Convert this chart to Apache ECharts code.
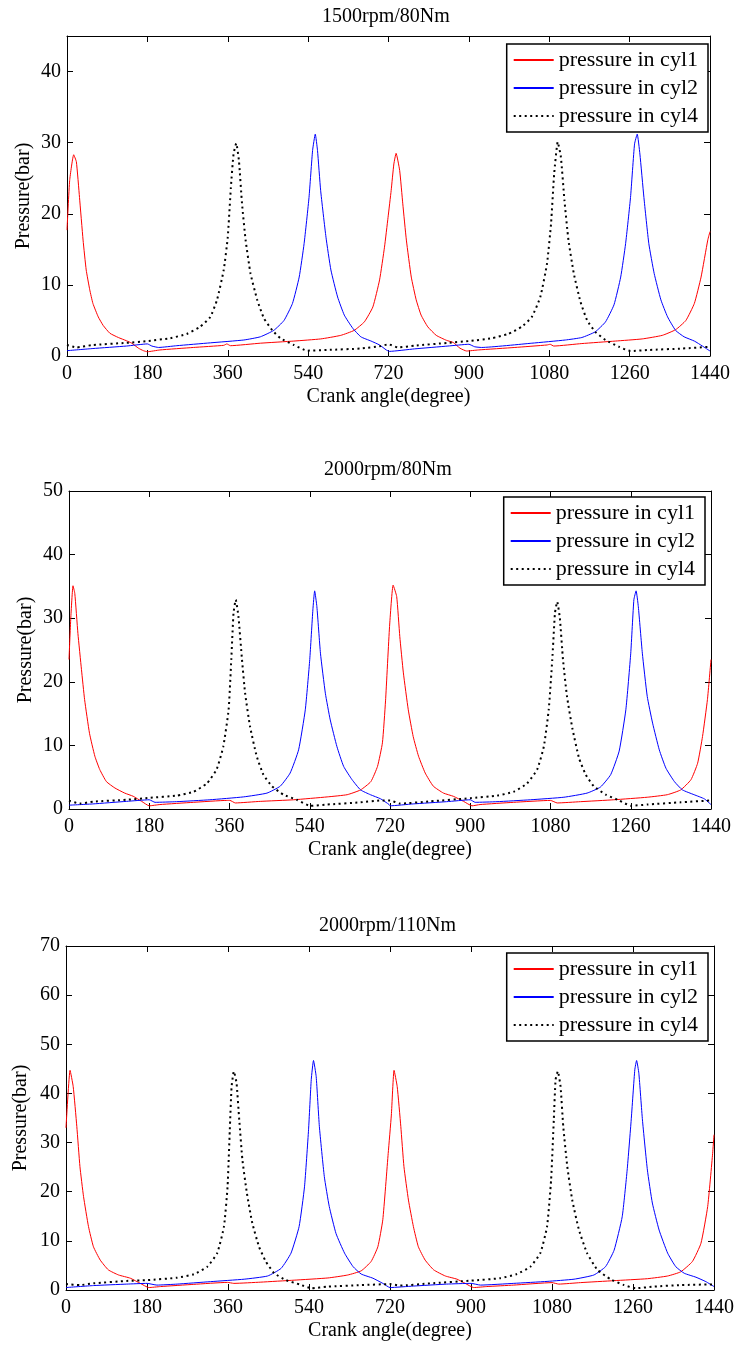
<!DOCTYPE html>
<html>
<head>
<meta charset="utf-8">
<script src="https://cdn.jsdelivr.net/npm/echarts@6/dist/echarts.min.js"></script>
<style>
html,body{margin:0;padding:0;background:#fff;}
#chart{width:737px;height:1349px;}
</style>
</head>
<body>
<div id="chart"></div>
<script>
// ---- data (crank angle in degrees, pressure in bar) ----
const xTicks = [0, 180, 360, 540, 720, 900, 1080, 1260, 1440];
const titles = ['1500rpm/80Nm', '2000rpm/80Nm', '2000rpm/110Nm'];
const seriesNames = ['pressure in cyl1', 'pressure in cyl2', 'pressure in cyl4'];
const yMax = [45, 50, 70];

const p1_cyl1 = [[0,17.7],[6,24.7],[15,28.3],[21,27.3],[28,22.3],[36,16.3],[43,12.1],[51,9.3],[58,7.4],[70,5.5],[81,4.3],[96,3.2],[115,2.6],[133,2.15],[145,1.8],[160,1.1],[171,0.75],[180,0.6],[208,0.85],[283,1.2],[351,1.5],[358,1.7],[366,1.45],[433,1.8],[508,2.1],[568,2.4],[613,2.9],[643,3.6],[666,4.8],[685,6.9],[700,10.7],[711,15.3],[719,19.5],[726,23.3],[732,27],[737,28.5],[745,26.1],[752,21.4],[760,16.3],[771,11.1],[782,7.9],[793,5.75],[808,4.1],[827,2.9],[850,2.2],[865,1.9],[880,1.1],[895,0.7],[921,0.85],[1003,1.2],[1075,1.55],[1082,1.65],[1090,1.4],[1153,1.75],[1228,2.1],[1288,2.4],[1333,2.9],[1363,3.7],[1386,5.0],[1405,7.4],[1420,11.1],[1435,16.3],[1440,17.5]];
const p1_cyl2 = [[0,0.75],[58,1.05],[133,1.4],[180,1.7],[190,1.4],[205,1.2],[246,1.45],[321,1.85],[396,2.25],[433,2.7],[463,3.6],[486,5.0],[505,7.4],[520,11.1],[531,15.8],[542,22.3],[550,28.9],[556,31.2],[561,28.9],[568,23.3],[580,16.7],[591,12.1],[606,8.3],[621,5.75],[640,3.9],[658,2.7],[681,2.1],[700,1.55],[715,0.85],[722,0.65],[778,1.0],[853,1.4],[900,1.65],[913,1.3],[928,1.2],[1041,1.8],[1116,2.25],[1153,2.6],[1183,3.4],[1206,4.8],[1225,7.2],[1240,11.1],[1251,15.8],[1262,22.3],[1271,29.8],[1277,31.2],[1283,28.4],[1292,22.3],[1303,15.8],[1315,11.6],[1330,7.9],[1345,5.5],[1363,3.6],[1382,2.7],[1405,2.1],[1423,1.4],[1440,0.7]];
const p1_cyl4 = [[0,1.55],[21,1.2],[58,1.55],[133,1.85],[180,2.1],[231,2.5],[268,3.1],[298,4.1],[321,5.5],[336,7.9],[351,12.1],[360,16.7],[367,23.7],[373,28.4],[379,29.9],[385,27.5],[392,21.4],[400,16.3],[411,11.6],[426,7.9],[441,5.3],[460,3.6],[478,2.5],[508,1.55],[538,0.75],[583,0.85],[658,1.05],[703,1.4],[720,1.65],[741,1.2],[778,1.45],[853,1.85],[900,2.1],[951,2.5],[988,3.1],[1018,4.1],[1041,5.5],[1060,8.3],[1075,13],[1084,18.6],[1091,25.6],[1099,30.1],[1106,28],[1114,21.9],[1123,16.3],[1135,11.6],[1150,7.6],[1165,5.0],[1183,3.4],[1206,2.25],[1236,1.3],[1262,0.7],[1303,0.85],[1378,1.05],[1440,1.3]];

const p2_cyl1 = [[0,23.5],[4,30],[9,35.1],[13,33.9],[20,27.6],[28,21.9],[35,17.2],[46,11.9],[58,8.3],[69,6.2],[84,4.3],[103,3.3],[125,2.5],[144,2.0],[163,1.2],[180,0.5],[204,0.7],[279,1.05],[354,1.35],[361,1.35],[373,0.95],[429,1.2],[504,1.45],[579,1.9],[624,2.25],[654,3.0],[677,4.3],[692,6.7],[703,10.4],[710,17],[719,28.7],[727,35.2],[735,33.4],[742,27.1],[750,21.4],[761,15.6],[772,11.4],[784,8.3],[799,5.65],[817,3.6],[840,2.5],[862,2.0],[885,1.2],[904,0.5],[922,0.7],[997,1.05],[1080,1.35],[1095,0.95],[1147,1.15],[1222,1.45],[1297,1.85],[1342,2.25],[1372,3.0],[1395,4.6],[1410,7.2],[1421,11.4],[1432,17.2],[1440,23.5]];
const p2_cyl2 = [[0,0.6],[54,0.8],[129,1.2],[180,1.45],[193,1.05],[241,1.15],[316,1.45],[391,1.9],[444,2.5],[474,3.6],[496,5.65],[515,9.3],[530,15.6],[540,23.5],[547,31.3],[551,34.3],[556,31.8],[564,24.5],[575,18.2],[586,14.0],[601,9.8],[616,6.7],[635,4.6],[654,3.0],[676,2.25],[699,1.6],[718,0.7],[720,0.5],[772,0.8],[847,1.15],[900,1.45],[911,1.05],[960,1.15],[1035,1.45],[1110,1.85],[1162,2.5],[1192,3.45],[1215,5.4],[1234,9.1],[1249,15.6],[1260,24.5],[1267,32.9],[1272,34.3],[1277,31.8],[1286,24.5],[1297,17.7],[1309,13.5],[1324,9.3],[1339,6.4],[1358,4.3],[1376,3.0],[1402,2.25],[1425,1.6],[1440,0.7]];
const p2_cyl4 = [[0,1.3],[24,0.85],[54,1.15],[129,1.45],[180,1.75],[241,2.1],[279,2.7],[309,4.0],[331,6.2],[346,9.8],[358,15.6],[364,23.5],[369,30.8],[374,32.9],[380,30.3],[388,23.5],[395,18.2],[406,13.0],[421,8.3],[436,5.4],[455,3.6],[481,2.25],[511,1.45],[541,0.5],[579,0.7],[654,1.05],[699,1.35],[720,1.35],[742,0.85],[810,1.2],[900,1.7],[960,2.1],[997,2.7],[1027,4.0],[1050,6.2],[1065,9.8],[1076,15.6],[1084,23.5],[1090,30.8],[1095,32.6],[1101,30.0],[1108,23.5],[1117,17.7],[1129,12.7],[1144,8.0],[1159,5.4],[1177,3.6],[1204,2.25],[1234,1.35],[1260,0.5],[1297,0.7],[1372,1.05],[1440,1.35]];

const p3_cyl1 = [[0,33],[9,44.7],[16,41.4],[24,33.3],[31,25.1],[39,19.0],[50,12.9],[61,8.8],[76,6.1],[94,4.1],[117,3.05],[143,2.4],[165,1.35],[184,0.5],[210,0.7],[284,1.15],[359,1.55],[373,1.35],[433,1.6],[507,2.0],[582,2.45],[626,3.05],[656,3.9],[678,5.8],[693,8.8],[704,14.3],[716,27.8],[723,35.6],[729,44.7],[736,41.4],[744,33.3],[751,25.1],[761,18.3],[772,12.9],[783,8.8],[798,6.1],[817,4.1],[843,2.85],[869,2.2],[887,1.35],[906,0.5],[935,0.7],[995,1.0],[1080,1.5],[1095,1.2],[1143,1.5],[1218,1.9],[1292,2.3],[1337,2.85],[1366,3.7],[1392,5.8],[1411,9.5],[1426,17],[1437,27.8],[1440,31.6]];
const p3_cyl2 = [[0,0.5],[61,0.9],[135,1.2],[180,1.35],[202,1.0],[247,1.2],[321,1.7],[396,2.2],[448,2.85],[478,4.4],[500,7.5],[518,12.9],[530,21],[539,32.6],[545,42.8],[550,46.7],[556,43.4],[563,33.3],[574,23.1],[585,17],[600,11.5],[619,7.5],[638,4.75],[656,3.25],[682,2.4],[704,1.35],[720,0.5],[772,0.8],[846,1.2],[900,1.35],[921,1.0],[995,1.35],[1069,1.75],[1129,2.2],[1173,3.05],[1199,4.75],[1218,8.1],[1236,14.9],[1247,24.4],[1256,34.6],[1264,44.8],[1268,46.7],[1273,44.1],[1281,34.6],[1292,24.4],[1303,17.7],[1318,12.2],[1337,7.5],[1355,4.75],[1374,3.4],[1400,2.6],[1422,1.7],[1440,0.7]];
const p3_cyl4 = [[0,1.2],[31,1.0],[61,1.35],[135,1.85],[180,2.0],[247,2.5],[284,3.2],[314,4.75],[336,7.5],[351,12.9],[359,21],[364,32.6],[368,41.4],[373,44.5],[379,42.1],[385,34.6],[392,26.5],[402,19.7],[414,13.6],[429,8.8],[444,5.8],[463,3.4],[489,2.0],[519,1.15],[545,0.35],[582,0.7],[656,1.0],[720,1.2],[742,0.9],[809,1.35],[900,1.9],[965,2.4],[1002,3.25],[1032,4.75],[1054,7.5],[1069,12.9],[1078,22.4],[1084,34.6],[1088,42.8],[1093,44.5],[1099,41.4],[1105,33.3],[1114,25.1],[1125,18.3],[1140,12.2],[1158,7.5],[1181,4.1],[1210,2.2],[1240,1.0],[1266,0.35],[1307,0.7],[1366,1.0],[1440,1.15]];

const plotData = [[p1_cyl1, p1_cyl2, p1_cyl4],[p2_cyl1, p2_cyl2, p2_cyl4],[p3_cyl1, p3_cyl2, p3_cyl4]];

// ---- layout / style ----
const FONT = "'Liberation Serif', 'Times New Roman', serif";
const grids = [
  {left: 67, right: 27, top: 36, height: 320},
  {left: 69, right: 26, top: 491, height: 318},
  {left: 66, right: 23, top: 946, height: 344}
];
const titlePos = [{left: 322, top: 7}, {left: 324, top: 460}, {left: 319, top: 916}];
const legendPos = [{right: 29, top: 44}, {right: 32, top: 497}, {right: 29, top: 953}];
const yNameGap = [33, 33, 35];
const lineStyles = [
  {color: '#ff0000', width: 1, type: 'solid'},
  {color: '#0000ff', width: 1, type: 'solid'},
  {color: '#000000', width: 2, type: [2, 3.5]}
];

const option = {
  animation: false,
  backgroundColor: '#ffffff',
  title: [], grid: [], xAxis: [], yAxis: [], series: [], legend: []
};

const axisLine = {show: true, onZero: false, lineStyle: {color: '#000', width: 1}};
const tick = {show: true, inside: true, length: 6, lineStyle: {color: '#000', width: 1}};

for (let i = 0; i < 3; i++) {
  option.grid.push(Object.assign({containLabel: false}, grids[i]));
  option.title.push({
    text: titles[i], left: titlePos[i].left, top: titlePos[i].top, padding: 0,
    textStyle: {fontFamily: FONT, fontSize: 20, fontWeight: 'normal', color: '#000'}
  });
  // bottom x axis
  option.xAxis.push({
    type: 'value', gridIndex: i, position: 'bottom', min: 0, max: 1440, interval: 180,
    name: 'Crank angle(degree)', nameLocation: 'middle', nameGap: 31, nameMoveOverlap: false,
    nameTextStyle: {fontFamily: FONT, fontSize: 20, color: '#000'},
    axisLine: axisLine, axisTick: tick, splitLine: {show: false},
    axisLabel: {fontFamily: FONT, fontSize: 20, color: '#000', margin: 8, showMinLabel: true, showMaxLabel: true,
      formatter: v => (xTicks.indexOf(v) >= 0 ? String(v) : '')}
  });
  // top x axis (box)
  option.xAxis.push({
    type: 'value', gridIndex: i, position: 'top', min: 0, max: 1440, interval: 180,
    axisLine: axisLine, axisTick: tick, axisLabel: {show: false}, splitLine: {show: false}
  });
  // left y axis
  option.yAxis.push({
    type: 'value', gridIndex: i, position: 'left', min: 0, max: yMax[i], interval: 10,
    name: 'Pressure(bar)', nameLocation: 'middle', nameGap: yNameGap[i], nameMoveOverlap: false,
    nameTextStyle: {fontFamily: FONT, fontSize: 20, color: '#000'},
    axisLine: axisLine, axisTick: tick, splitLine: {show: false},
    axisLabel: {fontFamily: FONT, fontSize: 20, color: '#000', margin: 6,
      formatter: v => (v % 10 === 0 ? String(v) : '')}
  });
  // right y axis (box)
  option.yAxis.push({
    type: 'value', gridIndex: i, position: 'right', min: 0, max: yMax[i], interval: 10,
    axisLine: axisLine, axisTick: tick, axisLabel: {show: false}, splitLine: {show: false}
  });
  for (let s = 0; s < 3; s++) {
    option.series.push({
      name: seriesNames[s], type: 'line', xAxisIndex: 2 * i, yAxisIndex: 2 * i,
      data: plotData[i][s], symbol: 'none', showSymbol: false, smooth: 0.15,
      lineStyle: lineStyles[s], itemStyle: {color: lineStyles[s].color},
      z: s === 2 ? 4 : 3
    });
  }
  option.legend.push({
    data: seriesNames, orient: 'vertical', right: legendPos[i].right, top: legendPos[i].top,
    backgroundColor: '#fff', borderColor: '#000', borderWidth: 1.5, borderRadius: 0,
    padding: [5, 10, 5, 6], itemWidth: 40, itemHeight: 14, itemGap: 6,
    selectedMode: false,
    itemStyle: {opacity: 0},
    textStyle: {fontFamily: FONT, fontSize: 22, color: '#000', lineHeight: 20}
  });
}

const chart = echarts.init(document.getElementById('chart'), null, {renderer: 'canvas'});
chart.setOption(option);
</script>
</body>
</html>
